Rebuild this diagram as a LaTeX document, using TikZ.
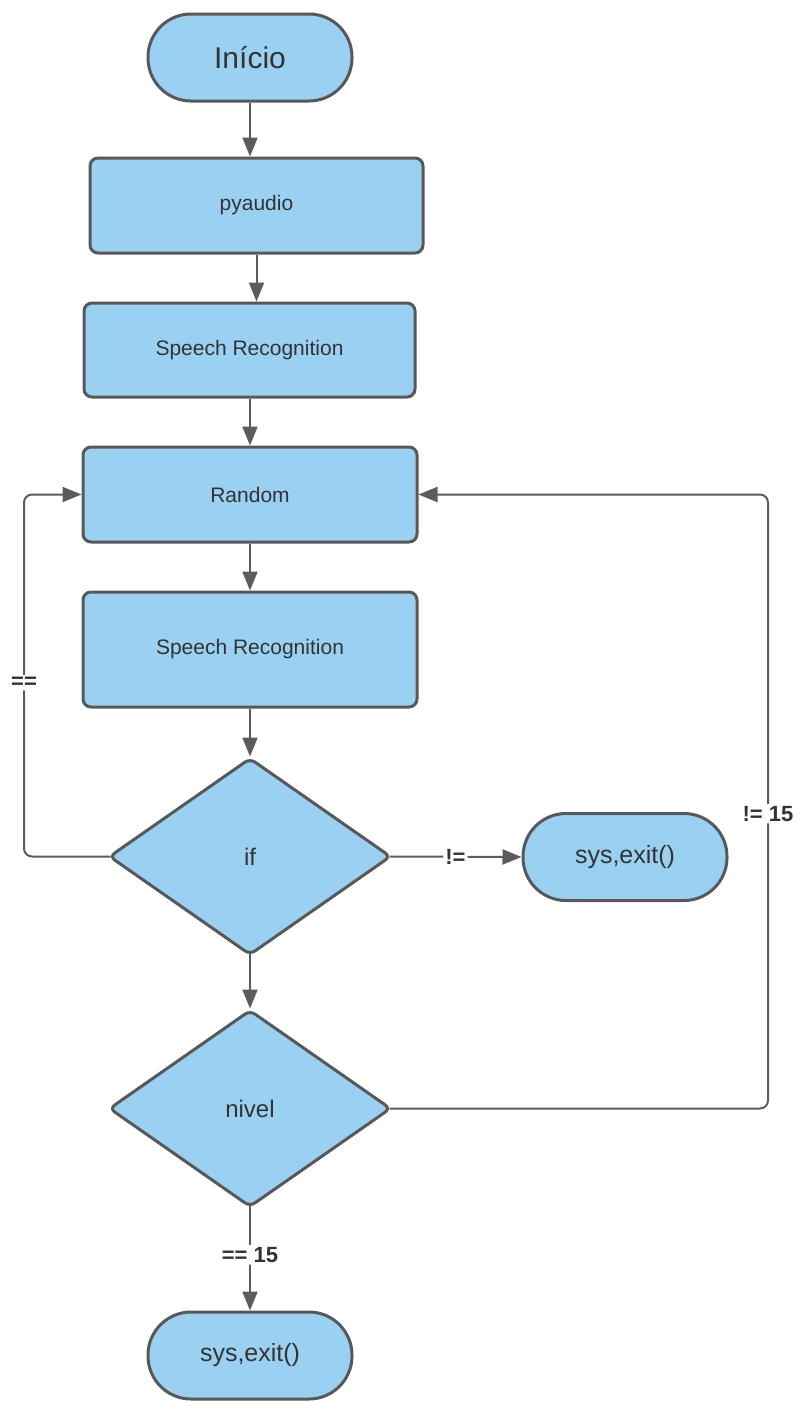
\documentclass[tikz,border=0pt]{standalone}
\usepackage{fontspec}
\setmainfont{Liberation Sans}
\usetikzlibrary{shapes.geometric,arrows.meta,positioning}
\definecolor{boxfill}{RGB}{154,209,242}
\definecolor{boxline}{RGB}{88,88,88}
\definecolor{txt}{RGB}{51,51,51}
\definecolor{conn}{RGB}{92,92,92}
\tikzset{
  base/.style={draw=boxline, fill=boxfill, line width=3pt, text=txt, inner sep=0pt},
  procbox/.style={base, rectangle, rounded corners=8pt, font=\fontsize{21}{24}\selectfont},
  termbox/.style={base, rectangle, minimum width=204pt, minimum height=87pt, rounded corners=43pt},
  decbox/.style={base, diamond, minimum width=282pt, minimum height=197pt, aspect=1.43, rounded corners=6pt, font=\fontsize{24}{28}\selectfont},
  conn/.style={draw=conn, line width=2pt, rounded corners=8pt},
  arr/.style={conn, -{Triangle[length=19pt,width=15pt]}},
  lbl/.style={fill=white, text=txt, font=\bfseries\fontsize{22}{26}\selectfont, inner sep=2pt}
}
\begin{document}
\begin{tikzpicture}[x=1pt,y=-1pt]
\useasboundingbox (0,0) rectangle (802,1401);
\node[termbox, font=\fontsize{30}{34}\selectfont] (inicio) at (250,57.5) {Início};
\node[procbox, minimum width=333pt, minimum height=95pt] (pyaudio) at (256.5,205.5) {pyaudio};
\node[procbox, minimum width=331pt, minimum height=94pt] (sr1) at (249.5,350) {Speech Recognition};
\node[procbox, minimum width=334pt, minimum height=95pt] (random) at (250,494.5) {Random};
\node[procbox, minimum width=334pt, minimum height=115pt] (sr2) at (250,649.5) {Speech Recognition};
\node[decbox] (if) at (250,856.5) {if};
\node[termbox, font=\fontsize{25}{28}\selectfont] (exit1) at (625,857) {sys,exit()};
\node[decbox] (nivel) at (250,1108.5) {nivel};
\node[termbox, minimum height=87pt, font=\fontsize{25}{28}\selectfont] (exit2) at (250,1355.5) {sys,exit()};
\coordinate (L) at (24,0);
\coordinate (R) at (768,0);
\draw[arr] (inicio.south) -- (inicio.south |- pyaudio.north);
\draw[arr] (pyaudio.south) -- (pyaudio.south |- sr1.north);
\draw[arr] (sr1.south -| random.north) -- (random.north);
\draw[arr] (random) -- (sr2);
\draw[arr] (sr2.south) -- (if.north);
\draw[arr] ([yshift=3pt]if.south) -- (nivel.north);
\draw[arr] ([xshift=-3pt]if.east) -- node[lbl, pos=0.5] {!=} (exit1.west);
\draw[arr] ([xshift=3pt]if.west) -- (if.west -| L) -- node[lbl, pos=0.48] {==} (random.west -| L) -- (random.west);
\draw[arr] ([xshift=-3pt]nivel.east) -- (nivel.east -| R) -- node[lbl, pos=0.48] {!= 15} (random.east -| R) -- (random.east);
\draw[arr] ([yshift=3pt]nivel.south) -- node[lbl, pos=0.47] {== 15} (exit2.north);
\end{tikzpicture}
\end{document}
